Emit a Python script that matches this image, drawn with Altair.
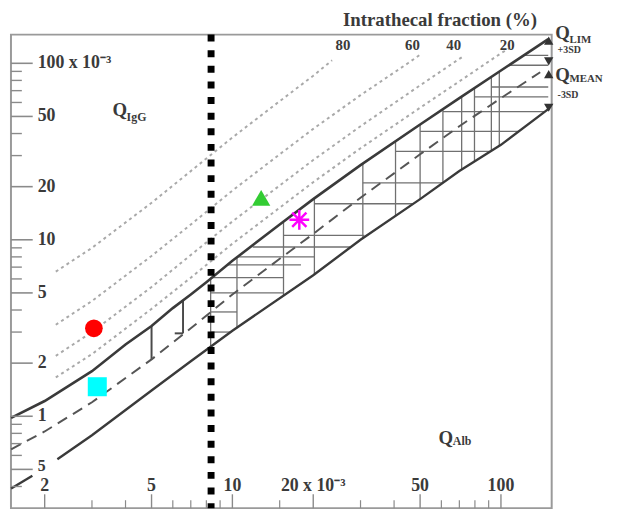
import altair as alt
import pandas as pd

# ---------------- data (units: 10^-3) ----------------
# upper discrimination line Q_LIM
lim_x = [1.5, 2, 3, 4, 5, 6, 7, 8, 10, 15, 20, 30, 50, 70, 100, 150]
lim_y = [0.98, 1.22, 1.8, 2.55, 3.25, 4.1, 4.9, 5.75, 7.6, 12.2, 17.0, 26.5, 45, 63.5, 91, 137]
# mean line Q_MEAN (dashed)
mean_x = [1.5, 2, 3, 5, 7, 10, 15, 20, 30, 50, 70, 100, 140]
mean_y = [0.65, 0.82, 1.2, 2.1, 3.15, 4.9, 7.8, 10.8, 17.3, 30.5, 44, 63.5, 89]
# lower line (-3SD); short piece at far left, gap for the axis labels, then main part
low_a_x = [1.5, 1.8]
low_a_y = [0.39, 0.46]
low_x = [2.23, 3, 5, 7, 10, 20, 30, 50, 70, 100, 150]
low_y = [0.57, 0.78, 1.4, 2.05, 3.05, 6.3, 10.0, 17.0, 24.5, 34.5, 55]

# intrathecal fraction lines (dotted)
if20_x = [2.2, 3, 5, 7, 10, 15, 20, 30, 50, 70, 100, 107]
if20_y = [1.66, 2.25, 4.06, 6.1, 9.5, 15.2, 21.2, 33, 56, 79, 114, 121]
if40_x = [2.2, 3, 5, 7, 10, 15, 20, 30, 50, 70, 72]
if40_y = [2.2, 3.0, 5.4, 8.2, 12.7, 20.3, 28.3, 44, 75, 106, 109]
if60_x = [2.2, 3, 5, 7, 10, 15, 20, 30, 45, 50]
if60_y = [3.3, 4.5, 8.1, 12.2, 19, 30.5, 42.5, 66, 100, 112]
if80_x = [2.2, 3, 5, 7, 10, 15, 20, 23.5]
if80_y = [6.6, 9, 16.2, 24.5, 38, 61, 85, 104]
if_labels = ["80", "60", "40", "20"]
if_label_x = [25.8, 46.8, 66.7, 105.5]

# hatching: vertical segments
hv_x = [8.3, 10.4, 15.5, 20.2, 30.6, 40.5, 50.0, 60.8, 71.4, 79.7, 92.1, 98.6]
hv_lo = [2.48, 3.15, 4.85, 6.35, 10.2, 13.6, 17.0, 21.0, 25.0, 27.8, 32.0, 34.0]
hv_hi = [6.0, 7.9, 12.7, 17.2, 27.0, 36.0, 45.0, 55.0, 64.5, 72.4, 83.8, 89.7]
# hatching: horizontal segments
hh_y = [3.0, 3.9, 5.0, 6.1, 7.2, 8.0, 9.1, 10.6, 16.0, 21.0, 31.7, 41.1, 53.2, 64.5, 73.4, 97.5, 110.9]
hh_x1 = [8.3, 8.3, 8.3, 8.3, 9.6, 10.45, 11.9, 15.5, 20.2, 30.6, 40.5, 50.0, 60.8, 79.7, 92.1, 108, 122]
hh_x2 = [9.9, 10.4, 15.5, 15.5, 18.0, 20.2, 27.5, 31.0, 47.0, 60.7, 91.0, 116, 146, 150, 150, 150, 150]
# small bars in the left part
lv_x = [5.0, 6.55]
lv_lo = [2.1, 2.95]
lv_hi = [3.25, 4.5]
foot_y = [2.95]
foot_x1 = [6.1]
foot_x2 = [6.55]

# arrow heads at the right end
arrow_x_val = 150.6
arrow_up_y = [134.5, 86.8]
arrow_down_y = [102.6, 56.0]

# patient markers
circle_x, circle_y = [3.05], [3.15]
square_x, square_y = [3.14], [1.47]
tri_x, tri_y = [12.8], [17.3]
star_x, star_y = [17.75], [12.98]
cut_x = [8.33]  # vertical dotted cut-off line

# axis ticks / labels
y_major = [0.5, 1, 2, 5, 10, 20, 50, 100]
y_minor = [0.4, 0.6, 0.7, 0.8, 0.9, 3, 4, 6, 7, 8, 9, 30, 40, 60, 70, 80, 90]
x_major = [2, 5, 10, 20, 50, 100]
x_minor = [3, 4, 6, 7, 8, 9, 15, 30, 40, 60, 70, 80, 90]
y_label_vals = [100, 50, 20, 10, 5, 2, 1]
y_label_text = ["100 x 10⁻³", "50", "20", "10", "5", "2", "1"]
y_low_label_vals = [0.5]
y_low_label_text = ["5"]
x_label_vals = [2, 5, 10, 20, 50, 100]
x_label_text = ["2", "5", "10", "20 x 10⁻³", "50", "100"]

# ---------------- chart ----------------
W, H = 547, 479
FONT = "Liberation Serif"
TXT = "#3a3a3a"
xs = alt.Scale(type="log", domain=[1.498, 154.5], nice=False)
ys = alt.Scale(type="log", domain=[0.3016, 145.4], nice=False)


def X(f="x"):
    return alt.X(f"{f}:Q", scale=xs, axis=None)


def Y(f="y"):
    return alt.Y(f"{f}:Q", scale=ys, axis=None)


def curve(xv, yv, **kw):
    df = pd.DataFrame({"x": xv, "y": yv, "i": range(len(xv))})
    return alt.Chart(df).mark_line(**kw).encode(x=X(), y=Y(), order="i:Q")


layers = []

# dotted intrathecal lines
for xv, yv in [(if20_x, if20_y), (if40_x, if40_y), (if60_x, if60_y), (if80_x, if80_y)]:
    layers.append(curve(xv, yv, color="#a9a9a9", strokeWidth=2, strokeDash=[3, 3.5]))

# hatching
hv = pd.DataFrame({"x": hv_x, "y": hv_lo, "y2": hv_hi})
layers.append(alt.Chart(hv).mark_rule(color="#707070", strokeWidth=1.3).encode(
    x=X(), y=Y(), y2="y2:Q"))
hh = pd.DataFrame({"y": hh_y, "x": hh_x1, "x2": hh_x2})
layers.append(alt.Chart(hh).mark_rule(color="#707070", strokeWidth=1.3).encode(
    x=X(), x2="x2:Q", y=Y()))
lv = pd.DataFrame({"x": lv_x, "y": lv_lo, "y2": lv_hi})
layers.append(alt.Chart(lv).mark_rule(color="#4a4a4a", strokeWidth=2).encode(
    x=X(), y=Y(), y2="y2:Q"))
ft = pd.DataFrame({"y": foot_y, "x": foot_x1, "x2": foot_x2})
layers.append(alt.Chart(ft).mark_rule(color="#4a4a4a", strokeWidth=2).encode(
    x=X(), x2="x2:Q", y=Y()))

# main curves
layers.append(curve(mean_x, mean_y, color="#555555", strokeWidth=2, strokeDash=[11, 7]))
layers.append(curve(lim_x, lim_y, color="#3a3a3a", strokeWidth=2.6))
layers.append(curve(low_a_x, low_a_y, color="#3a3a3a", strokeWidth=2.4))
layers.append(curve(low_x, low_y, color="#3a3a3a", strokeWidth=2.4))

# arrow heads
layers.append(alt.Chart(pd.DataFrame({"x": [arrow_x_val] * 2, "y": arrow_up_y})).mark_point(
    shape="triangle-up", filled=True, color="#333333", size=90, opacity=1).encode(x=X(), y=Y()))
layers.append(alt.Chart(pd.DataFrame({"x": [arrow_x_val] * 2, "y": arrow_down_y})).mark_point(
    shape="triangle-down", filled=True, color="#333333", size=90, opacity=1).encode(x=X(), y=Y()))

# axis ticks drawn inside the frame
layers.append(alt.Chart(pd.DataFrame({"y": y_major})).mark_rule(color="#8a8a8a", strokeWidth=1.6).encode(
    y=Y(), x=alt.value(0), x2=alt.value(22)))
layers.append(alt.Chart(pd.DataFrame({"y": y_minor})).mark_rule(color="#8a8a8a", strokeWidth=1.4).encode(
    y=Y(), x=alt.value(0), x2=alt.value(11)))
layers.append(alt.Chart(pd.DataFrame({"x": x_major})).mark_rule(color="#8a8a8a", strokeWidth=1.4).encode(
    x=X(), y=alt.value(H), y2=alt.value(H - 14)))
layers.append(alt.Chart(pd.DataFrame({"x": x_minor})).mark_rule(color="#8a8a8a", strokeWidth=1.2).encode(
    x=X(), y=alt.value(H), y2=alt.value(H - 8)))

# axis labels
layers.append(alt.Chart(pd.DataFrame({"y": y_label_vals, "t": y_label_text})).mark_text(
    align="left", baseline="middle", font=FONT, fontSize=18, fontWeight="bold", color=TXT).encode(
    y=Y(), x=alt.value(27), text="t:N"))
layers.append(alt.Chart(pd.DataFrame({"y": y_low_label_vals, "t": y_low_label_text})).mark_text(
    align="left", baseline="middle", font=FONT, fontSize=16, fontWeight="bold", color=TXT, dy=-3).encode(
    y=Y(), x=alt.value(27), text="t:N"))
layers.append(alt.Chart(pd.DataFrame({"x": x_label_vals, "t": x_label_text})).mark_text(
    align="center", baseline="middle", font=FONT, fontSize=18, fontWeight="bold", color=TXT).encode(
    x=X(), y=alt.value(457), text="t:N"))
layers.append(alt.Chart(pd.DataFrame({"x": if_label_x, "t": if_labels})).mark_text(
    align="center", baseline="middle", font=FONT, fontSize=15, fontWeight="bold", color=TXT).encode(
    x=X(), y=alt.value(11), text="t:N"))

# vertical dotted cut-off line
layers.append(alt.Chart(pd.DataFrame({"x": cut_x})).mark_rule(
    color="black", strokeWidth=7, strokeDash=[7, 8.8], strokeCap="butt").encode(x=X()))

# markers
layers.append(alt.Chart(pd.DataFrame({"x": circle_x, "y": circle_y})).mark_point(
    shape="circle", filled=True, color="#ff0000", size=320, opacity=1).encode(x=X(), y=Y()))
layers.append(alt.Chart(pd.DataFrame({"x": square_x, "y": square_y})).mark_point(
    shape="square", filled=True, color="#00ffff", size=370, opacity=1).encode(x=X(), y=Y()))
layers.append(alt.Chart(pd.DataFrame({"x": tri_x, "y": tri_y})).mark_point(
    shape="triangle-up", filled=True, color="#33cc33", size=340, opacity=1).encode(x=X(), y=Y()))
layers.append(alt.Chart(pd.DataFrame({"x": star_x, "y": star_y})).mark_point(
    shape="M0,-1L0,1M-1,0L1,0M-0.72,-0.72L0.72,0.72M-0.72,0.72L0.72,-0.72",
    filled=False, color="#ff00ff", strokeWidth=2.5, size=400, opacity=1).encode(x=X(), y=Y()))


def label(text, x, y, size, align="left", weight="bold"):
    return alt.Chart(pd.DataFrame({"t": [text]})).mark_text(
        align=align, baseline="middle", font=FONT, fontSize=size, fontWeight=weight, color=TXT
    ).encode(x=alt.value(x), y=alt.value(y), text="t:N")


layers += [
    label("Intrathecal fraction (%)", 434, -15, 19, align="center"),
    label("Q", 110, 76, 19, align="center"),
    label("IgG", 117, 83, 12),
    label("Q", 440, 408, 19, align="center"),
    label("Alb", 447, 411, 12),
    label("Q", 558, -2, 19, align="center"),
    label("LIM", 565, 5, 11),
    label("+3SD", 553, 16, 10),
    label("Q", 558, 41, 19, align="center"),
    label("MEAN", 565, 45, 11),
    label("-3SD", 553, 61, 10),
]

chart = alt.layer(*layers).properties(
    width=W,
    height=H,
    autosize=alt.AutoSizeParams(type="none"),
    padding={"left": 3, "top": 24, "right": 60, "bottom": 2},
).configure_view(stroke="#9a9a9a", strokeWidth=2)

chart.save("out.html", embed_options={"renderer": "svg", "actions": False})
